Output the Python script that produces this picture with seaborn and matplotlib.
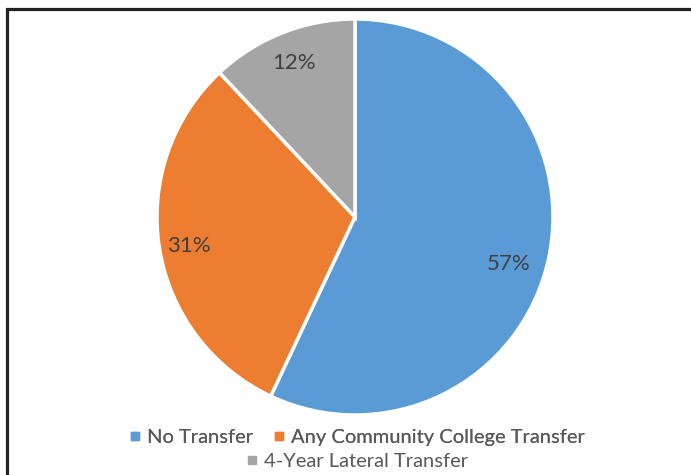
import matplotlib
matplotlib.use("Agg")
import matplotlib.pyplot as plt
from matplotlib.patches import Rectangle
from matplotlib.lines import Line2D
import seaborn as sns

# Transfer categories and their shares (percent)
categories = ["No Transfer", "Any Community College Transfer", "4-Year Lateral Transfer"]
shares = [57, 31, 12]
colors = ["#5B9BD5", "#ED7D31", "#A5A5A5"]

sns.set_theme(style="white")
plt.rcParams["font.family"] = ["Lato", "DejaVu Sans"]

W, H = 691, 475
fig = plt.figure(figsize=(W / 100, H / 100), dpi=100)
fig.patch.set_facecolor("white")

# pie axes: centre (355, 217) px from top-left, radius 198 px
cx, cy, r = 355, 217, 198
ax = fig.add_axes([(cx - r) / W, (H - cy - r) / H, 2 * r / W, 2 * r / H])

wedges, _, pct_texts = ax.pie(
    shares,
    colors=colors,
    startangle=90,
    counterclock=False,
    radius=1.0,
    autopct=lambda p: f"{p:.0f}%",
    pctdistance=0.8,
    wedgeprops=dict(edgecolor="white", linewidth=2.5),
    textprops=dict(color="#404040", fontsize=16),
)
ax.set_xlim(-1, 1)
ax.set_ylim(-1, 1)
ax.set_aspect("equal")
ax.axis("off")

# data-label placement inside each slice
label_pos = [(0.775, -0.235), (-0.838, -0.146), (-0.308, 0.778)]
for t, (x, y) in zip(pct_texts, label_pos):
    t.set_position((x, y))
    t.set_ha("center")
    t.set_va("center")

# legend: two entries on the first line, one on the second
def handle(c):
    return Line2D([], [], marker="s", linestyle="none", markersize=6,
                  markerfacecolor=c, markeredgecolor=c)

leg1 = fig.legend([handle(colors[0]), handle(colors[1])], categories[:2],
                  loc="center", bbox_to_anchor=(cx / W, 1 - 437 / H), ncol=2,
                  frameon=False, fontsize=14.5, handletextpad=0.1,
                  columnspacing=0.8, handlelength=1.0, labelcolor="#595959")
leg2 = fig.legend([handle(colors[2])], categories[2:],
                  loc="center", bbox_to_anchor=(cx / W, 1 - 461 / H), ncol=1,
                  frameon=False, fontsize=14.5, handletextpad=0.1,
                  handlelength=1.0, labelcolor="#595959")
fig.add_artist(leg1)

# outer frame (top and left edges visible)
fig.add_artist(Rectangle((7 / W, -0.1), 1.2, 1.1 - 9 / H,
                         transform=fig.transFigure, fill=False,
                         edgecolor="#222222", linewidth=2.3, clip_on=False))

fig.savefig("out.png", dpi=100, facecolor="white")
